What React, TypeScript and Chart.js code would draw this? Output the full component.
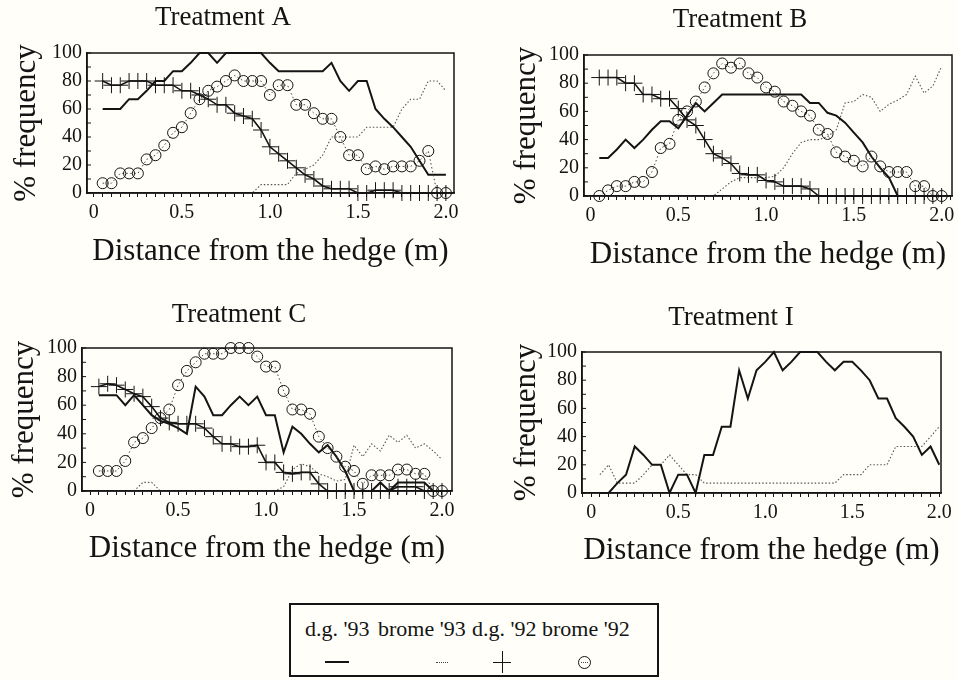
import React, { useEffect, useRef } from 'react';
import { Chart, registerables } from 'chart.js';

Chart.register(...registerables);

// ---------- data ----------
const DIST = [0.05, 0.1, 0.15, 0.2, 0.25, 0.3, 0.35, 0.4, 0.45, 0.5, 0.55, 0.6, 0.65, 0.7, 0.75, 0.8, 0.85, 0.9, 0.95, 1.0,
  1.05, 1.1, 1.15, 1.2, 1.25, 1.3, 1.35, 1.4, 1.45, 1.5, 1.55, 1.6, 1.65, 1.7, 1.75, 1.8, 1.85, 1.9, 1.95, 2.0];

const X_LABELS = ['0', '0.5', '1.0', '1.5', '2.0'];
const Y_LABELS = ['0', '20', '40', '60', '80', '100'];

const SERIES_NAMES = ["d.g. '93", "brome '93", "d.g. '92", "brome '92"];

const A_DG93 = [60, 60, 60, 67, 67, 73, 80, 80, 87, 87, 93, 100, 100, 93, 100, 100, 100, 100, 100, 93,
  87, 87, 87, 87, 87, 87, 93, 80, 73, 80, 80, 60, 53, 47, 40, 33, 23, 13, 13, 13];
const A_BROME93 = [0, 0, 0, 0, 0, 0, 0, 0, 0, 0, 0, 0, 0, 0, 0, 0, 0, 0, 6, 6,
  6, 6, 14, 17, 20, 27, 40, 40, 40, 40, 47, 47, 47, 47, 60, 67, 67, 80, 80, 73];
const A_DG92 = [80, 77, 77, 80, 80, 80, 77, 77, 77, 73, 73, 70, 67, 63, 63, 57, 55, 53, 45, 33,
  28, 23, 18, 13, 10, 5, 3, 3, 3, 0, 0, 2, 2, 2, 0, 0, 0, 0, 0, 0];
const A_BROME92 = [7, 7, 14, 14, 14, 24, 27, 34, 43, 47, 57, 67, 73, 76, 80, 84, 80, 80, 80, 70,
  77, 77, 63, 63, 57, 53, 53, 40, 27, 27, 17, 19, 17, 19, 19, 19, 23, 30, 0, 0];

const B_DG93 = [27, 27, 33, 40, 34, 40, 47, 53, 53, 48, 57, 66, 60, 66, 72, 72, 72, 72, 72, 72,
  72, 72, 72, 72, 66, 66, 59, 57, 52, 45, 38, 28, 20, 13, 0, 0, 0, 0, 0, 0];
const B_BROME93 = [0, 0, 0, 0, 0, 0, 0, 0, 0, 0, 0, 0, 0, 0, 5, 10, 13, 13, 13, 13,
  14, 20, 30, 38, 40, 40, 42, 47, 66, 67, 72, 70, 60, 65, 68, 72, 85, 73, 78, 92];
const B_DG92 = [84, 84, 84, 80, 80, 72, 72, 69, 69, 62, 54, 50, 40, 30, 27, 23, 16, 15, 15, 11,
  10, 7, 7, 7, 5, 0, 0, 0, 0, 0, 0, 0, 0, 0, 0, 0, 0, 0, 0, 0];
const B_BROME92 = [0, 4, 7, 7, 10, 10, 17, 34, 37, 54, 60, 67, 77, 87, 94, 91, 94, 87, 84, 77,
  74, 67, 64, 60, 57, 47, 44, 31, 28, 25, 21, 28, 21, 17, 17, 17, 7, 7, 0, 0];

const C_DG93 = [67, 67, 67, 60, 67, 60, 53, 49, 47, 44, 40, 73, 66, 53, 53, 60, 66, 60, 66, 53,
  53, 27, 45, 40, 33, 27, 32, 24, 14, 0, 0, 0, 6, 0, 6, 6, 6, 6, 0, 0];
const C_BROME93 = [0, 0, 0, 0, 0, 6, 6, 0, 0, 0, 0, 0, 0, 0, 0, 0, 0, 0, 0, 0,
  0, 3, 15, 19, 17, 12, 10, 7, 8, 32, 24, 33, 28, 39, 34, 39, 30, 33, 28, 22];
const C_DG92 = [73, 75, 74, 71, 68, 66, 59, 51, 48, 47, 47, 47, 44, 38, 33, 33, 31, 31, 32, 20,
  20, 13, 12, 13, 13, 5, 0, 0, 0, 0, 0, 0, 0, 0, 3, 3, 3, 0, 0, 0];
const C_BROME92 = [14, 14, 14, 21, 34, 37, 44, 51, 57, 74, 84, 90, 96, 96, 96, 100, 100, 100, 94, 87,
  87, 70, 57, 57, 54, 38, 30, 24, 17, 14, 5, 11, 11, 11, 15, 15, 12, 12, 0, 0];

const I_DG93 = [0, 0, 7, 13, 33, 27, 20, 20, 0, 13, 13, 0, 27, 27, 47, 47, 87, 67, 87, 93,
  100, 87, 93, 100, 100, 100, 93, 87, 93, 93, 87, 80, 67, 67, 53, 47, 40, 27, 33, 20];
const I_BROME93 = [13, 20, 7, 7, 7, 13, 20, 20, 27, 20, 13, 13, 7, 7, 7, 7, 7, 7, 7, 7,
  7, 7, 7, 7, 7, 7, 7, 7, 13, 13, 13, 20, 20, 20, 33, 33, 33, 33, 40, 47];

// ---------- style ----------
const FONT = "'Liberation Serif', 'Times New Roman', serif";
const INK = '#141414';
const BG = '#fffef9';

const YW = 87; // y axis box width
const TH = 53; // title box height
const XH = 80; // x axis box height
const PR = 22; // right padding

type PanelSpec = {
  title: string;
  L: number; T: number; R: number; B: number;
  tx: number; ty: number; yx: number; xy: number;
  xmin: number; xmax: number;
  dg93: number[]; brome93: number[]; dg92?: number[]; brome92?: number[];
};

const PANELS: PanelSpec[] = [
  { title: 'Treatment A', L: 87, T: 53, R: 454, B: 193, tx: 223, ty: 18, yx: 27, xy: 252, xmin: -0.039, xmax: 2.046,
    dg93: A_DG93, brome93: A_BROME93, dg92: A_DG92, brome92: A_BROME92 },
  { title: 'Treatment B', L: 584, T: 55, R: 952, B: 196, tx: 740, ty: 20, yx: 527, xy: 255, xmin: -0.037, xmax: 2.059,
    dg93: B_DG93, brome93: B_BROME93, dg92: B_DG92, brome92: B_BROME92 },
  { title: 'Treatment C', L: 82, T: 348, R: 452, B: 491, tx: 239, ty: 315, yx: 25, xy: 549, xmin: -0.046, xmax: 2.057,
    dg93: C_DG93, brome93: C_BROME93, dg92: C_DG92, brome92: C_BROME92 },
  { title: 'Treatment I', L: 582, T: 352, R: 941, B: 493, tx: 731, ty: 318, yx: 527, xy: 551, xmin: -0.053, xmax: 2.01,
    dg93: I_DG93, brome93: I_BROME93 },
];

const pts = (vals: number[]) => vals.map((v, i) => ({ x: DIST[i], y: v }));

const titleShift = {
  id: 'titleShift',
  afterLayout(chart: any, _args: any, opts: any) {
    const tb = chart.titleBlock;
    if (tb && opts && typeof opts.cx === 'number') {
      tb.left = opts.cx - 160;
      tb.right = opts.cx + 160;
    }
  },
};

const frame = {
  id: 'frame',
  afterDatasetsDraw(chart: any) {
    const { ctx, chartArea: a } = chart;
    const y = chart.scales.y;
    ctx.save();
    ctx.strokeStyle = INK;
    ctx.lineWidth = 1.5;
    ctx.strokeRect(a.left, a.top, a.right - a.left, a.bottom - a.top);
    ctx.beginPath();
    ctx.lineWidth = 1;
    for (const t of y.ticks) {
      const py = y.getPixelForValue(t.value);
      ctx.moveTo(a.left, py);
      ctx.lineTo(a.left + 4, py);
    }
    ctx.stroke();
    ctx.restore();
  },
};

function Panel({ p }: { p: PanelSpec }) {
  const ref = useRef<HTMLCanvasElement | null>(null);
  const cl = p.L - YW;
  const ct = p.T - TH;
  const cw = p.R - cl + PR;
  const ch = p.B - ct + XH;

  useEffect(() => {
    if (!ref.current) return;
    const titleLH = 27 * 1.2;
    const tTop = p.ty - ct - titleLH / 2;
    const tBottom = TH - titleLH - tTop;
    const axLH = 31 * 1.2;
    const yPadTop = p.yx - cl - axLH / 2;
    const xPadBottom = ct + ch - p.xy - axLH / 2;

    const datasets: any[] = [];
    if (p.dg92) {
      datasets.push({
        label: SERIES_NAMES[2], data: pts(p.dg92), borderColor: INK, borderWidth: 1.6,
        pointStyle: 'cross', pointRadius: 8, pointBorderWidth: 1, pointBorderColor: INK,
        pointBackgroundColor: INK, tension: 0, clip: false,
      });
    }
    if (p.brome92) {
      datasets.push({
        label: SERIES_NAMES[3], data: pts(p.brome92), borderColor: '#444', borderWidth: 1,
        borderDash: [1.5, 2.5], pointStyle: 'circle', pointRadius: 5.5, pointBorderWidth: 1,
        pointBorderColor: INK, pointBackgroundColor: 'rgba(0,0,0,0)', tension: 0, clip: false,
      });
    }
    datasets.push({
      label: SERIES_NAMES[0], data: pts(p.dg93), borderColor: INK, borderWidth: 2,
      pointRadius: 0, tension: 0, clip: false,
    });
    datasets.push({
      label: SERIES_NAMES[1], data: pts(p.brome93), borderColor: '#555', borderWidth: 1.1,
      borderDash: [1.5, 2], pointRadius: 0, tension: 0, clip: false,
    });

    const chart = new Chart(ref.current, {
      type: 'line',
      data: { datasets },
      options: {
        responsive: false,
        animation: false,
        events: [],
        layout: { padding: { left: 0, top: 0, right: PR, bottom: 0 } },
        plugins: {
          legend: { display: false },
          tooltip: { enabled: false },
          title: {
            display: true, text: p.title, color: INK,
            font: { family: FONT, size: 27, weight: 'normal' },
            padding: { top: tTop, bottom: tBottom },
          },
          titleShift: { cx: p.tx - cl },
        } as any,
        scales: {
          x: {
            type: 'linear', min: p.xmin, max: p.xmax,
            afterFit: (s: any) => { s.height = XH; },
            grid: { display: true, drawOnChartArea: false, drawTicks: true, tickLength: 4, color: INK, lineWidth: 1 },
            border: { display: true, color: INK, width: 1.5 },
            ticks: {
              stepSize: 0.05, autoSkip: false, maxRotation: 0, minRotation: 0, includeBounds: false,
              padding: 4, color: INK, font: { family: FONT, size: 20 },
              callback: (v: any) => {
                const n = Number(v);
                const h = Math.round(n * 2);
                if (Math.abs(n * 2 - h) > 1e-6 || h < 0 || h > 4) return '';
                return X_LABELS[h];
              },
            },
            title: {
              display: true, text: 'Distance from the hedge (m)', color: INK,
              font: { family: FONT, size: 31 }, padding: { top: 0, bottom: xPadBottom },
            },
          },
          y: {
            min: 0, max: 100,
            afterFit: (s: any) => { s.width = YW; },
            grid: { display: false, drawTicks: false },
            border: { display: true, color: INK, width: 1.5 },
            ticks: {
              stepSize: 10, autoSkip: false, padding: 5, color: INK, font: { family: FONT, size: 20 },
              callback: (v: any) => {
                const n = Math.round(Number(v));
                return n % 20 === 0 ? Y_LABELS[n / 20] : '';
              },
            },
            title: {
              display: true, text: '% frequency', color: INK,
              font: { family: FONT, size: 31 }, padding: { top: yPadTop, bottom: 0 },
            },
          },
        },
      } as any,
      plugins: [titleShift, frame] as any,
    });
    return () => chart.destroy();
  }, []);

  return (
    <canvas
      ref={ref}
      width={cw}
      height={ch}
      style={{ position: 'absolute', left: cl, top: ct, width: cw, height: ch }}
    />
  );
}

function Legend() {
  const txt: React.CSSProperties = {
    position: 'absolute', top: 618, fontFamily: FONT, fontSize: 22, lineHeight: '22px',
    color: INK, whiteSpace: 'nowrap',
  };
  const lefts = [305, 378, 472, 542];
  return (
    <>
      <div style={{
        position: 'absolute', left: 289, top: 603, width: 370, height: 74,
        border: `2px solid ${INK}`, boxSizing: 'border-box',
      }} />
      {SERIES_NAMES.map((n, i) => (
        <div key={n} style={{ ...txt, left: lefts[i] }}>{n}</div>
      ))}
      <div style={{ position: 'absolute', left: 325, top: 661, width: 24, height: 2, background: INK }} />
      <div style={{ position: 'absolute', left: 436, top: 662, width: 12, height: 0, borderTop: '1px dotted #444' }} />
      <div style={{ position: 'absolute', left: 493, top: 662, width: 18, height: 1, background: INK }} />
      <div style={{ position: 'absolute', left: 502, top: 651, width: 1, height: 22, background: INK }} />
      <div style={{
        position: 'absolute', left: 578, top: 656, width: 13, height: 13, borderRadius: '50%',
        border: `1px solid ${INK}`, boxSizing: 'border-box',
      }} />
      <div style={{ position: 'absolute', left: 581, top: 662, width: 7, height: 0, borderTop: '1px dotted #444' }} />
    </>
  );
}

export default function App() {
  return (
    <div style={{
      position: 'absolute', left: 0, top: 0, width: 958, height: 680, background: BG, overflow: 'hidden',
    }}>
      {PANELS.map((p) => <Panel key={p.title} p={p} />)}
      <Legend />
    </div>
  );
}
